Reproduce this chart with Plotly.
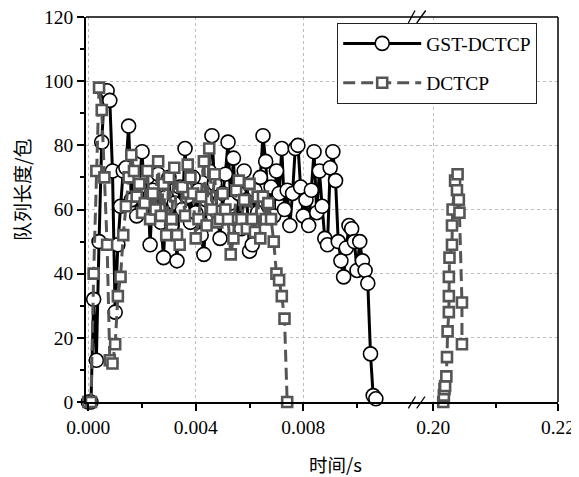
import plotly.graph_objects as go

# ---------------- data ----------------
gst_t = [0.0000, 0.0001, 0.0002, 0.0003, 0.0004, 0.0005, 0.0006, 0.0007, 0.0008, 0.0009,
         0.0010, 0.0011, 0.0012, 0.0013, 0.0014, 0.0015, 0.0016, 0.0017, 0.0018, 0.0019,
         0.0020, 0.0021, 0.0022, 0.0023, 0.0024, 0.0025, 0.0026, 0.0027, 0.0028, 0.0029,
         0.0030, 0.0031, 0.0032, 0.0033, 0.0034, 0.0035, 0.0036, 0.0037, 0.0038, 0.0039,
         0.0040, 0.0041, 0.0042, 0.0043, 0.0044, 0.0045, 0.0046, 0.0047, 0.0048, 0.0049,
         0.0050, 0.0051, 0.0052, 0.0053, 0.0054, 0.0055, 0.0056, 0.0057, 0.0058, 0.0059,
         0.0060, 0.0061, 0.0062, 0.0063, 0.0064, 0.0065, 0.0066, 0.0067, 0.0068, 0.0069,
         0.0070, 0.0071, 0.0072, 0.0073, 0.0074, 0.0075, 0.0076, 0.0077, 0.0078, 0.0079,
         0.0080, 0.0081, 0.0082, 0.0083, 0.0084, 0.0085, 0.0086, 0.0087, 0.0088, 0.0089,
         0.0090, 0.0091, 0.0092, 0.0093, 0.0094, 0.0095, 0.0096, 0.0097, 0.0098, 0.0099,
         0.0100, 0.0101, 0.0102, 0.0103, 0.0104, 0.0105, 0.0106, 0.0107]
gst_q = [0, 0, 32, 13, 50, 81, 97, 97, 94, 72,
         28, 49, 61, 72, 73, 86, 63, 70, 58, 67,
         78, 62, 70, 49, 66, 58, 71, 56, 45, 64,
         70, 55, 62, 44, 67, 60, 79, 64, 56, 70,
         59, 66, 52, 46, 63, 72, 83, 68, 59, 51,
         65, 71, 81, 62, 76, 57, 65, 54, 72, 63,
         47, 49, 66, 59, 70, 83, 75, 61, 67, 58,
         72, 65, 79, 60, 66, 55, 65, 79, 80, 67,
         58, 63, 55, 66, 78, 59, 72, 61, 51, 49,
         73, 78, 69, 50, 44, 39, 48, 55, 54, 50,
         41, 50, 44, 41, 37, 15, 2, 1]

dctcp_t = [0.0000, 0.0001, 0.0002, 0.0003, 0.0004, 0.0005, 0.0006, 0.0007, 0.0008, 0.0009,
           0.0010, 0.0011, 0.0012, 0.0013, 0.0014, 0.0015, 0.0016, 0.0017, 0.0018, 0.0019,
           0.0020, 0.0021, 0.0022, 0.0023, 0.0024, 0.0025, 0.0026, 0.0027, 0.0028, 0.0029,
           0.0030, 0.0031, 0.0032, 0.0033, 0.0034, 0.0035, 0.0036, 0.0037, 0.0038, 0.0039,
           0.0040, 0.0041, 0.0042, 0.0043, 0.0044, 0.0045, 0.0046, 0.0047, 0.0048, 0.0049,
           0.0050, 0.0051, 0.0052, 0.0053, 0.0054, 0.0055, 0.0056, 0.0057, 0.0058, 0.0059,
           0.0060, 0.0061, 0.0062, 0.0063, 0.0064, 0.0065, 0.0066, 0.0067, 0.0068, 0.0069,
           0.0070, 0.0071, 0.0072, 0.0073, 0.0074]
dctcp_q = [0, 0, 40, 72, 98, 91, 70, 49, 13, 12,
           18, 33, 39, 52, 61, 70, 77, 72, 64, 68,
           59, 62, 72, 57, 65, 60, 75, 58, 68, 52,
           70, 57, 73, 52, 49, 67, 58, 74, 70, 65,
           51, 57, 64, 75, 55, 79, 60, 71, 56, 57,
           65, 60, 57, 46, 51, 66, 69, 57, 63, 54,
           68, 57, 53, 64, 51, 64, 57, 62, 57, 50,
           40, 38, 33, 26, 0]

dctcp2_t = [0.2016, 0.2017, 0.2018, 0.2019, 0.2021, 0.2022, 0.2023, 0.2025, 0.2025, 0.2025,
            0.2026, 0.2030, 0.2030, 0.2031, 0.2035, 0.2039, 0.2038, 0.2041, 0.2042, 0.2046,
            0.2046]
dctcp2_q = [0, 2, 4, 5, 8, 14, 22, 28, 33, 39,
            45, 49, 55, 60, 69, 71, 66, 63, 59, 31,
            18]

left_ticks = [0.000, 0.004, 0.008]
left_labels = ["0.000", "0.004", "0.008"]
left_minor = [0.002, 0.006, 0.010]
right_ticks = [0.20, 0.22]
right_labels = ["0.20", "0.22"]
right_minor = [0.21]
y_ticks = [0, 20, 40, 60, 80, 100, 120]
y_minor = [10, 30, 50, 70, 90, 110]

# ---------------- styling ----------------
W, H = 579, 477
OFF = 8                      # page body margin offset
PL, PR, PT, PB = 86, 558, 17, 402   # plot area in window pixels
PW, PH = PR - PL, PB - PT
BREAK_PX = 417
dsplit = (BREAK_PX - PL) / PW

def px(xp):
    return (xp - PL) / PW

def py(yp):
    return (PB - yp) / PH

SERIF = "Liberation Serif, Times New Roman, serif"
CJK = "Noto Sans CJK SC"
FS = 19.5
GRAY = "#555555"

fig = go.Figure()

fig.add_trace(go.Scatter(
    x=gst_t, y=gst_q, name="GST-DCTCP", mode="lines+markers",
    legendgroup="gst", xaxis="x", yaxis="y", cliponaxis=False,
    line=dict(color="black", width=3),
    marker=dict(symbol="circle", size=14, color="white",
                line=dict(color="black", width=1.6)),
))
fig.add_trace(go.Scatter(
    x=dctcp_t, y=dctcp_q, name="DCTCP", mode="lines+markers",
    legendgroup="dctcp", xaxis="x", yaxis="y", cliponaxis=False,
    line=dict(color=GRAY, width=3, dash="12px,6px"),
    marker=dict(symbol="square", size=10, color="white",
                line=dict(color=GRAY, width=2.6)),
))
fig.add_trace(go.Scatter(
    x=dctcp2_t, y=dctcp2_q, name="DCTCP", mode="lines+markers",
    legendgroup="dctcp", showlegend=False, xaxis="x2", yaxis="y", cliponaxis=False,
    line=dict(color=GRAY, width=3, dash="12px,6px"),
    marker=dict(symbol="square", size=10, color="white",
                line=dict(color=GRAY, width=2.6)),
))

axis_common = dict(
    showline=True, linecolor="black", linewidth=1.5, automargin=False,
    ticks="outside", ticklen=7, tickwidth=1.5, tickcolor="black",
    showgrid=True, gridcolor="#bdbdbd", gridwidth=1, griddash="dot",
    zeroline=False, ticklabeloverflow="allow",
    tickfont=dict(family=SERIF, size=FS, color="black"),
)

x0 = (PL - 88.3) / 26.875 * 0.001
x1 = (BREAK_PX - 88.3) / 26.875 * 0.001
x2_0 = 0.20 - (433.3 - BREAK_PX) / 6250.0

fig.update_layout(
    width=W, height=H,
    margin=dict(l=PL - OFF, r=W - (PR - OFF), t=PT - OFF, b=H - (PB - OFF), autoexpand=False),
    paper_bgcolor="white", plot_bgcolor="white",
    showlegend=True,
    xaxis=dict(domain=[0, dsplit], range=[x0, x1], anchor="y",
               tickmode="array", tickvals=left_ticks, ticktext=left_labels,
               minor=dict(tickmode="array", tickvals=left_minor, ticks="outside",
                          ticklen=4, tickwidth=1.5, tickcolor="black", showgrid=False),
               **axis_common),
    xaxis2=dict(domain=[dsplit, 1], range=[x2_0, 0.22], anchor="y",
                tickmode="array", tickvals=right_ticks, ticktext=right_labels,
                minor=dict(tickmode="array", tickvals=right_minor, ticks="outside",
                           ticklen=4, tickwidth=1.5, tickcolor="black", showgrid=False),
                **axis_common),
    yaxis=dict(domain=[0, 1], range=[0, 120], anchor="x",
               tickmode="array", tickvals=y_ticks,
               minor=dict(tickmode="array", tickvals=y_minor, ticks="outside",
                          ticklen=4, tickwidth=1.5, tickcolor="black", showgrid=False),
               **axis_common),
    legend=dict(x=px(337), y=py(23), xanchor="left", yanchor="top",
                bgcolor="white", bordercolor="#222222", borderwidth=1.2,
                font=dict(family=SERIF, size=FS, color="black"),
                itemwidth=78, traceorder="grouped", tracegroupgap=11),
)

# top and right frame lines
shapes = [
    dict(type="line", xref="paper", yref="paper", x0=0, x1=1, y0=1, y1=1,
         line=dict(color="black", width=1.5), layer="above"),
    dict(type="line", xref="paper", yref="paper", x0=1, x1=1, y0=0, y1=1,
         line=dict(color="black", width=1.5), layer="above"),
]
# axis-break marks
for (ax0, ay0, ax1, ay1) in [(408.3, 408.3, 415.5, 396.5), (416.7, 408.3, 425.0, 396.5),
                             (408.3, 23.0, 415.0, 10.5), (416.7, 23.0, 425.7, 10.5)]:
    shapes.append(dict(type="line", xref="paper", yref="paper",
                       x0=px(ax0), y0=py(ay0), x1=px(ax1), y1=py(ay1),
                       line=dict(color="black", width=1.3), layer="above"))
fig.update_layout(shapes=shapes)

fig.add_annotation(text="时间/s", xref="paper", yref="paper",
                   x=px(335), y=py(464), xanchor="center", yanchor="middle",
                   showarrow=False, font=dict(family=CJK, size=18.5, color="black"))
fig.add_annotation(text="队列长度/包", xref="paper", yref="paper",
                   x=px(21), y=py(190), xanchor="center", yanchor="middle",
                   textangle=-90, showarrow=False,
                   font=dict(family=CJK, size=19, color="black"))

fig.write_html("out.html")
